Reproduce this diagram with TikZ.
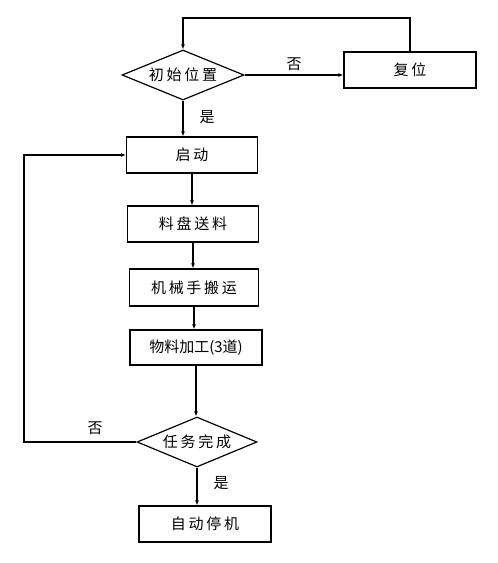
\documentclass[tikz,border=0pt]{standalone}
\usepackage{fontspec}
\newfontfamily\cjk[LetterSpace=18]{Noto Sans CJK SC}
\usetikzlibrary{shapes.geometric,arrows.meta}
\begin{document}
\begin{tikzpicture}[x=1pt,y=-1pt,
  every node/.style={font=\cjk\fontsize{15pt}{17pt}\selectfont},
  box/.style={draw,line width=1.2pt,rectangle,inner sep=0pt},
  dia/.style={draw,line width=1.2pt,diamond,inner sep=0pt,minimum width=122pt,minimum height=50pt},
  arr/.style={line width=1.2pt,-{Latex[length=5pt,width=4pt]}},
  lbl/.style={inner sep=0pt}]
\useasboundingbox (0,0) rectangle (498,563);
% nodes
\node[dia] (init) at (183,75) {};
\node at (init.center) {初始位置};
\node[box,minimum width=132pt,minimum height=36pt] (fw) at (410,70) {复位};
\node[box,minimum width=131pt,minimum height=36pt] (qd) at (192,155) {启动};
\node[box,minimum width=131pt,minimum height=36pt] (lp) at (193,224) {料盘送料};
\node[box,minimum width=129pt,minimum height=37pt] (jx) at (194,287.5) {机械手搬运};
\node[box,minimum width=132pt,minimum height=35pt] (wl) at (196,347.5) {\addfontfeature{LetterSpace=0}物料加工(3道)};
\node[dia,minimum width=120pt] (rw) at (197,442) {};
\node at (rw.center) {任务完成};
\node[box,minimum width=132pt,minimum height=36pt] (zd) at (205,524) {自动停机};
% labels
\node[lbl] (no1) at (294,64) {否};
\node[lbl] (yes1) at (207,117) {是};
\node[lbl] (no2) at (95,428) {否};
\node[lbl] (yes2) at (221,483) {是};
% coordinates
\coordinate (top) at (183,18);
\coordinate (lft) at (24,442);
% connectors
\draw[arr] (fw.north) |- (top) -- (init.north);
\draw[arr] (init.east) -- (init.east -| fw.west);
\draw[arr] (init.south) -- (init.south |- qd.north);
\draw[arr] (qd.south) -- (qd.south |- lp.north);
\draw[arr] (lp.south) -- (lp.south |- jx.north);
\draw[arr] (jx.south) -- (jx.south |- wl.north);
\draw[arr] (wl.south) -- (wl.south |- rw.north);
\draw[arr] (rw.south) -- (rw.south |- zd.north);
\draw[arr] (rw.west) -- (lft) |- (qd.west);
\end{tikzpicture}
\end{document}
